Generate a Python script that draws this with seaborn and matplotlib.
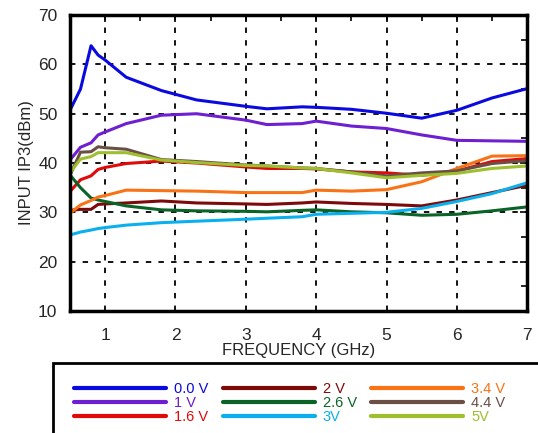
import pandas as pd
import matplotlib
matplotlib.use('Agg')
import matplotlib.pyplot as plt
import seaborn as sns
from matplotlib.patches import Rectangle
from matplotlib.ticker import MultipleLocator

# frequency points (GHz)
freq = [0.5, 0.65, 0.8, 0.9, 1.0, 1.3, 1.8, 2.3, 3.0, 3.3, 3.8, 4.0, 4.5, 5.0, 5.5, 6.0, 6.5, 7.0]

# input IP3 (dBm) per control voltage
v00 = [50.7, 55.0, 63.8, 61.9, 60.9, 57.4, 54.7, 52.8, 51.5, 51.0, 51.4, 51.3, 50.9, 50.1, 49.1, 50.7, 53.2, 55.1]
v10 = [40.6, 43.2, 44.1, 45.7, 46.3, 48.0, 49.7, 50.0, 48.7, 47.8, 48.0, 48.5, 47.5, 47.0, 45.7, 44.6, 44.5, 44.4]
v16 = [34.2, 36.6, 37.4, 38.7, 39.1, 39.9, 40.4, 40.0, 39.2, 38.9, 38.9, 38.8, 38.2, 38.0, 37.5, 38.4, 40.3, 40.9]
v20 = [30.4, 30.6, 30.6, 31.6, 31.7, 31.9, 32.3, 31.9, 31.7, 31.6, 31.9, 32.1, 31.8, 31.6, 31.3, 32.5, 34.0, 35.5]
v26 = [37.6, 35.0, 32.9, 32.5, 32.2, 31.3, 30.5, 30.3, 30.2, 30.1, 30.4, 30.5, 30.1, 29.9, 29.4, 29.6, 30.3, 31.1]
v30 = [25.4, 26.0, 26.4, 26.7, 26.9, 27.4, 27.9, 28.2, 28.6, 28.8, 29.1, 29.6, 29.8, 30.0, 30.8, 32.2, 33.8, 36.0]
v34 = [29.8, 31.5, 32.4, 33.1, 33.4, 34.5, 34.4, 34.3, 34.0, 34.0, 34.0, 34.5, 34.3, 34.6, 36.2, 38.9, 41.4, 41.5]
v44 = [37.5, 42.2, 42.3, 43.3, 43.1, 42.8, 40.7, 40.3, 39.6, 39.4, 39.0, 38.9, 38.2, 37.4, 38.0, 38.4, 39.9, 40.5]
v50 = [38.0, 40.8, 41.3, 42.1, 42.1, 42.1, 40.6, 40.1, 39.5, 39.4, 39.0, 38.9, 38.0, 37.0, 37.5, 37.9, 38.9, 39.4]

labels = ['0.0 V', '1 V', '1.6 V', '2 V', '2.6 V', '3V', '3.4 V', '4.4 V', '5V']
series = [v00, v10, v16, v20, v26, v30, v34, v44, v50]
colors = ['#0a0ae0', '#6e1fd2', '#e00a0a', '#7d0a0a', '#0a6428', '#0ab0ee',
          '#f97316', '#6b4f45', '#9ebf2e']

rows = []
for lab, vals in zip(labels, series):
    for f, v in zip(freq, vals):
        rows.append({'freq': f, 'ip3': v, 'bias': lab})
df = pd.DataFrame(rows)

sns.set_style('white')
plt.rcParams['font.family'] = ['Liberation Sans', 'DejaVu Sans']

fig = plt.figure(figsize=(5.38, 4.33), dpi=100)
ax = fig.add_axes([0.130, 0.282, 0.850, 0.683])

sns.lineplot(data=df, x='freq', y='ip3', hue='bias', hue_order=labels,
             palette=dict(zip(labels, colors)), linewidth=2.2, ax=ax,
             legend=False, estimator=None, sort=False)

ax.set_xlim(0.5, 7)
ax.set_ylim(10, 70)
ax.xaxis.set_major_locator(MultipleLocator(1))
ax.xaxis.set_minor_locator(MultipleLocator(0.5))
ax.yaxis.set_major_locator(MultipleLocator(10))
ax.yaxis.set_minor_locator(MultipleLocator(5))
ax.grid(True, which='major', color='black', linestyle=(0, (3, 4)), linewidth=1.3)
ax.tick_params(which='both', direction='in', top=True, right=True, labelsize=12.5,
               width=1.2, color='black')
ax.tick_params(which='major', length=5, pad=12)
ax.tick_params(axis='y', which='major', pad=9)
ax.tick_params(which='minor', length=4)
for s in ax.spines.values():
    s.set_linewidth(2.5)
    s.set_color('black')
ax.set_xlabel('FREQUENCY (GHz)', fontsize=12, labelpad=0)
ax.set_ylabel('INPUT IP3(dBm)', fontsize=12, labelpad=3)

# legend box running off the figure edge
fig.patches.append(Rectangle((53 / 538, -0.05), 1.0, 1 - 363 / 433 + 0.05,
                             transform=fig.transFigure, fill=False,
                             edgecolor='black', linewidth=2))
handles = [plt.Line2D([], [], color=c, linewidth=3) for c in colors]
fig.legend(handles, labels, ncol=3, loc='upper left', bbox_to_anchor=(74 / 538, 1 - 382 / 433),
           frameon=False, fontsize=10.5, labelcolor=colors, handlelength=6.3,
           handletextpad=0.55, labelspacing=0.0, columnspacing=1.0,
           borderpad=0, borderaxespad=0)

fig.savefig('out.png', dpi=100)
